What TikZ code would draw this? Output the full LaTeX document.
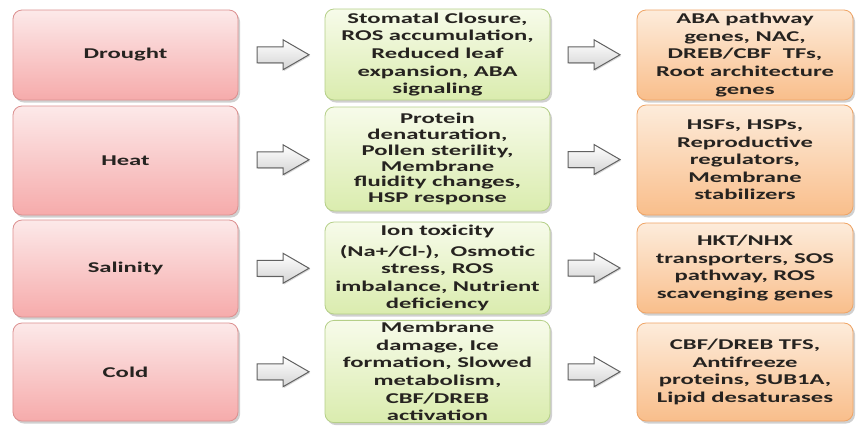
\documentclass[tikz,border=0pt]{standalone}
\usepackage{fontspec}
\setmainfont[FakeStretch=1.65]{Carlito}
\usetikzlibrary{shadows,calc}
\definecolor{pinkT}{HTML}{FCE9E9}
\definecolor{pinkB}{HTML}{F6ABAB}
\definecolor{pinkD}{HTML}{DC9090}
\definecolor{greenT}{HTML}{F7FBEA}
\definecolor{greenB}{HTML}{DAECAE}
\definecolor{greenD}{HTML}{B5CF88}
\definecolor{orT}{HTML}{FDECDB}
\definecolor{orB}{HTML}{F9BE8B}
\definecolor{orD}{HTML}{EFA465}
\definecolor{txt}{HTML}{262320}
\begin{document}
\begin{tikzpicture}[x=1bp,y=-1bp,
  box/.style={rounded corners=9bp, line width=0.8bp, align=center, inner sep=2bp,
    text=txt, font=\fontsize{15}{17.6}\selectfont\bfseries,
    drop shadow={shadow xshift=2bp, shadow yshift=-2.5bp, opacity=0.3, fill=black!60}},
  stress/.style={box, draw=pinkD, top color=pinkT, bottom color=pinkB, minimum width=225bp},
  effect/.style={box, draw=greenD, top color=greenT, bottom color=greenB, minimum width=225bp},
  gene/.style={box, draw=orD, top color=orT, bottom color=orB, minimum width=216bp},
  arrowbody/.style={draw=black!62, line width=1bp, top color=white, bottom color=black!17,
    drop shadow={shadow xshift=1.2bp, shadow yshift=-1.2bp, opacity=0.25, fill=black!60}},
  blockarrow/.pic={\path[arrowbody] (-26,-8) -- (0,-8) -- (0,-15) -- (26,0) -- (0,15) -- (0,8) -- (-26,8) -- cycle;}
]
\useasboundingbox[fill=white] (0,0) rectangle (856,425);

% row 1
\node[stress, minimum height=90bp] (s1) at (125.5,55) {Drought};
\node[effect, minimum height=91bp] (e1) at (437.5,54.5) {Stomatal Closure,\\ROS accumulation,\\Reduced leaf\\expansion, ABA\\signaling};
\node[gene, minimum height=90bp] (g1) at (745,55) {ABA pathway\\genes, NAC,\\DREB/CBF\ \ TFs,\\Root architecture\\genes};
% row 2
\node[stress, minimum height=109bp] (s2) at (125.5,160.5) {Heat};
\node[effect, minimum height=104bp, font=\fontsize{15}{16}\selectfont\bfseries] (e2) at (437.5,159) {Protein\\denaturation,\\Pollen sterility,\\Membrane\\fluidity changes,\\HSP response};
\node[gene, minimum height=110bp] (g2) at (745,160) {HSFs, HSPs,\\Reproductive\\regulators,\\Membrane\\stabilizers};
% row 3
\node[stress, minimum height=97bp] (s3) at (125.5,268.5) {Salinity};
\node[effect, minimum height=92bp] (e3) at (437.5,268) {Ion toxicity\\[3bp](Na+/Cl-),\ \ Osmotic\\stress, ROS\\imbalance, Nutrient\\deficiency};
\node[gene, minimum height=90bp] (g3) at (745,268) {HKT/NHX\\transporters, SOS\\pathway, ROS\\scavenging genes};
% row 4
\node[stress, minimum height=98bp] (s4) at (125.5,372) {Cold};
\node[effect, minimum height=97bp] (e4) at (437.5,371.5) {Membrane\\damage, Ice\\formation, Slowed\\metabolism,\\CBF/DREB\\activation};
\node[gene, minimum height=98bp] (g4) at (745,372) {CBF/DREB TFS,\\Antifreeze\\proteins, SUB1A,\\Lipid desaturases};

% block arrows
\foreach \i in {1,2,3,4}{
  \pic at ($(s\i.east)!0.5!(e\i.west)+(1.5,0)$) {blockarrow};
  \pic at ($(e\i.east)!0.5!(g\i.west)+(0.5,0)$) {blockarrow};
}
\end{tikzpicture}
\end{document}
